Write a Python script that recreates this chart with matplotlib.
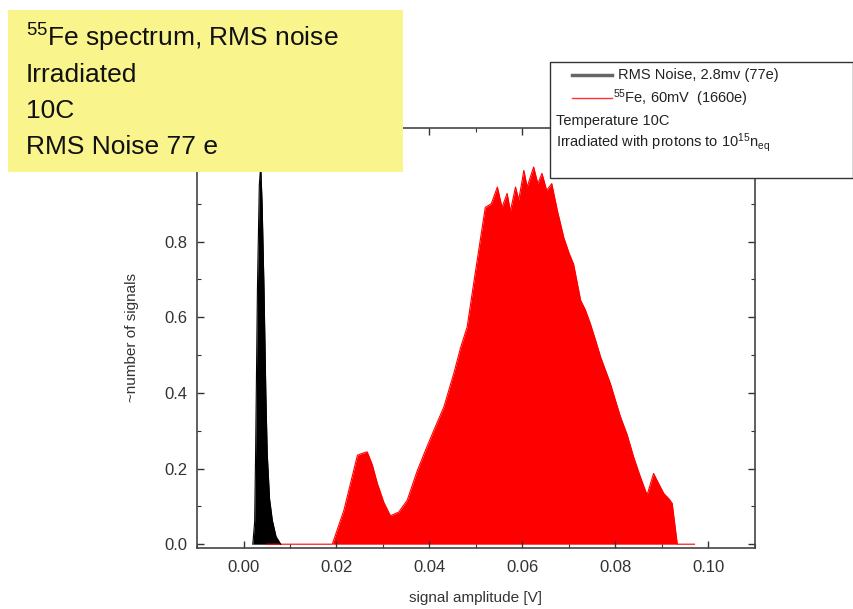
import matplotlib
matplotlib.use("Agg")
import matplotlib.pyplot as plt
from matplotlib.lines import Line2D
from matplotlib.patches import Rectangle
from matplotlib.ticker import MultipleLocator

plt.rcParams['font.family'] = ['Liberation Sans', 'DejaVu Sans']
plt.rcParams['mathtext.fontset'] = 'custom'
plt.rcParams['mathtext.rm'] = 'Liberation Sans'
plt.rcParams['mathtext.it'] = 'Liberation Sans:italic'
plt.rcParams['mathtext.bf'] = 'Liberation Sans:bold'

# RMS noise distribution (black)
noise_x = [0.0020, 0.0024, 0.0026, 0.0030, 0.0034, 0.0037, 0.0040, 0.0044,
           0.0048, 0.0051, 0.0056, 0.0062, 0.0070, 0.0080]
noise_y = [0.0, 0.06, 0.24, 0.68, 0.95, 1.0, 0.90, 0.68,
           0.40, 0.24, 0.12, 0.063, 0.02, 0.0]

# 55Fe spectrum (red)
fe_x = [0.0050, 0.0191, 0.0216, 0.0230, 0.0245, 0.0255, 0.0266, 0.0277, 0.0288,
        0.0302, 0.0316, 0.0334, 0.0352, 0.0374, 0.0392, 0.0409, 0.0431, 0.0452,
        0.0467, 0.0481, 0.0495, 0.0510, 0.0520, 0.0533, 0.0546, 0.0556, 0.0567,
        0.0574, 0.0585, 0.0592, 0.0603, 0.0610, 0.0624, 0.0633, 0.0642, 0.0652,
        0.0663, 0.0675, 0.0689, 0.0700, 0.0710, 0.0725, 0.0735, 0.0746, 0.0757,
        0.0768, 0.0789, 0.0800, 0.0811, 0.0825, 0.0839, 0.0853, 0.0868, 0.0882,
        0.0893, 0.0904, 0.0915, 0.0922, 0.0933, 0.0970]
fe_y = [0.0, 0.0, 0.09, 0.16, 0.235, 0.24, 0.244, 0.21, 0.16,
        0.11, 0.075, 0.085, 0.116, 0.195, 0.25, 0.30, 0.363, 0.45,
        0.52, 0.574, 0.689, 0.81, 0.89, 0.90, 0.944, 0.89, 0.927,
        0.88, 0.944, 0.91, 0.988, 0.944, 0.997, 0.953, 0.98, 0.935,
        0.953, 0.882, 0.81, 0.77, 0.74, 0.645, 0.62, 0.583, 0.54,
        0.495, 0.425, 0.38, 0.336, 0.29, 0.231, 0.18, 0.13, 0.187,
        0.16, 0.134, 0.12, 0.108, 0.0, 0.0]

xticks = [0.00, 0.02, 0.04, 0.06, 0.08, 0.10]
yticks = [0.0, 0.2, 0.4, 0.6, 0.8, 1.0]

fig = plt.figure(figsize=(8.54, 6.09), dpi=100)
ax = fig.add_axes([0.2307, 0.1002, 0.884 - 0.2307, 0.7898 - 0.1002])

ax.fill_between(fe_x, fe_y, 0, color='#ff0000', linewidth=0)
ax.plot(fe_x, fe_y, color='#ff0000', lw=0.8)
ax.fill_between(noise_x, noise_y, 0, color='black', linewidth=0)
ax.plot(noise_x, noise_y, color='black', lw=0.8)

ax.set_xlim(-0.01, 0.11)
ax.set_ylim(-0.01, 1.1)
ax.set_xticks(xticks)
ax.set_xticklabels([f"{v:.2f}" for v in xticks])
ax.set_yticks(yticks)
ax.set_yticklabels([f"{v:.1f}" for v in yticks])
ax.xaxis.set_minor_locator(MultipleLocator(0.01))
ax.yaxis.set_minor_locator(MultipleLocator(0.1))
ax.tick_params(which='both', direction='in', top=True, right=True,
               labelsize=12, labelcolor='#333333', color='#333333')
ax.tick_params(which='major', length=5, width=1)
ax.tick_params(axis='x', which='major', pad=9)
ax.tick_params(axis='y', which='major', pad=7)
ax.tick_params(which='minor', length=3, width=0.8)
for s in ax.spines.values():
    s.set_color('#444444')
    s.set_linewidth(1.2)
ax.set_xlabel('signal amplitude [V]', fontsize=11, color='#333333', labelpad=11)
ax.set_ylabel('~number of signals', fontsize=11, color='#333333', labelpad=18)

# Yellow annotation box
W, H = 854, 609
def fx(p): return p / W
def fy(p): return 1 - p / H

fig.patches.append(Rectangle((fx(8), fy(172)), fx(403) - fx(8), fy(10) - fy(172),
                             transform=fig.transFigure, facecolor='#f9f48c',
                             edgecolor='none', zorder=5))
lines_txt = [r'$^{55}$Fe spectrum, RMS noise', 'Irradiated', '10C', 'RMS Noise 77 e']
for i, t in enumerate(lines_txt):
    fig.text(fx(26), fy(38 + 36.5 * i), t, fontsize=19, va='center', ha='left',
             color='#111111', zorder=6)

# Legend box
fig.patches.append(Rectangle((fx(550), fy(178)), fx(853) - fx(550), fy(62) - fy(178),
                             transform=fig.transFigure, facecolor='white',
                             edgecolor='#333333', linewidth=1.0, zorder=5))
fig.lines.append(Line2D([fx(572), fx(612)], [fy(75), fy(75)], transform=fig.transFigure,
                        color='#666666', lw=2.5, zorder=6))
fig.lines.append(Line2D([fx(572), fx(612)], [fy(98), fy(98)], transform=fig.transFigure,
                        color='#ff3333', lw=1.0, zorder=6))
leg_txt = [(fx(618), 75, 'RMS Noise, 2.8mv (77e)'),
           (fx(613), 98, r'$^{55}$Fe, 60mV  (1660e)'),
           (fx(556), 121, 'Temperature 10C'),
           (fx(556), 143, r'Irradiated with protons to 10$^{15}$n$_{\rm eq}$')]
for xx, yy, t in leg_txt:
    fig.text(xx, fy(yy), t, fontsize=10.5, va='center', ha='left', color='#222222', zorder=6)

fig.savefig('out.png', dpi=100)
